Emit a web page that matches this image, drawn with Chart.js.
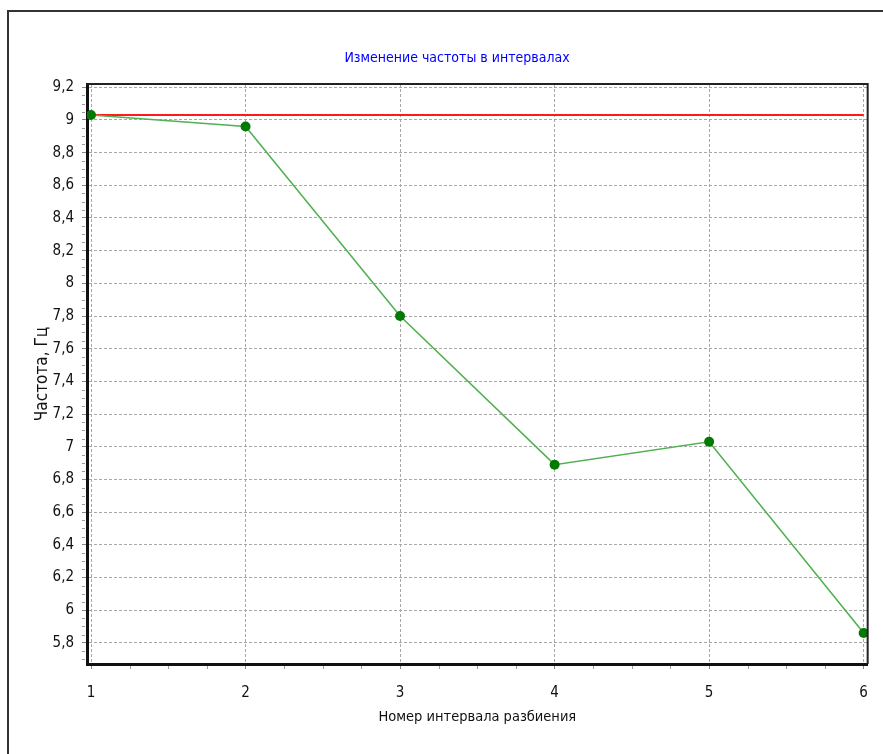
<!DOCTYPE html>
<html>
<head>
<meta charset="utf-8">
<script src="https://cdn.jsdelivr.net/npm/chart.js@4"></script>
<style>
  html, body { margin: 0; padding: 0; background: #fff; overflow: hidden; }
  #wrap { position: relative; width: 883px; height: 754px; }
  #frame { position: absolute; left: 7px; top: 10px; width: 950px; height: 900px; border: 2px solid #333; box-sizing: border-box; }
  canvas { position: absolute; left: 0; top: 0; }
</style>
</head>
<body>
<div id="wrap">
  <div id="frame"></div>
  <canvas id="c" width="883" height="754"></canvas>
</div>
<script>
// ---- data ----
const intervals = [1, 2, 3, 4, 5, 6];
const frequency = [9.03, 8.96, 7.80, 6.89, 7.03, 5.86];
const refX = [1, 6];
const refLevel = [9.03, 9.03];
const chartTitle = 'Изменение частоты в интервалах';
const xTitle = 'Номер интервала разбиения';
const yTitle = 'Частота, Гц';

const FONT = "'Liberation Sans Narrow', 'Arial Narrow', 'DejaVu Sans Condensed', sans-serif";

function fmt(v) {
  const r = Math.round(v * 10) / 10;
  return String(r).replace('.', ',');
}

const minorTicks = {
  id: 'minorTicks',
  afterDraw(chart) {
    const ctx = chart.ctx;
    const xs = chart.scales.x, ys = chart.scales.y;
    const a = chart.chartArea;
    ctx.save();
    ctx.strokeStyle = '#9a9a9a';
    ctx.lineWidth = 1;
    ctx.beginPath();
    for (let i = Math.ceil(ys.min * 20); i <= Math.floor(ys.max * 20); i++) {
      if (i % 4 === 0) continue;
      const y = Math.round(ys.getPixelForValue(i / 20)) + 0.5;
      ctx.moveTo(a.left - 5, y); ctx.lineTo(a.left - 2, y);
    }
    for (let i = Math.ceil(xs.min * 4); i <= Math.floor(xs.max * 4); i++) {
      if (i % 4 === 0) continue;
      const x = Math.round(xs.getPixelForValue(i / 4)) + 0.5;
      ctx.moveTo(x, a.bottom + 2); ctx.lineTo(x, a.bottom + 5);
    }
    ctx.stroke();
    // top and right edges of the plot box
    ctx.strokeStyle = '#222';
    ctx.lineWidth = 2;
    ctx.beginPath();
    ctx.moveTo(a.left, a.top); ctx.lineTo(a.right, a.top); ctx.lineTo(a.right, a.bottom);
    ctx.stroke();
    ctx.restore();
  }
};

new Chart(document.getElementById('c'), {
  type: 'line',
  data: {
    datasets: [
      {
        data: refX.map((x, i) => ({ x, y: refLevel[i] })),
        borderColor: '#ff1a1a',
        borderWidth: 2,
        pointRadius: 0,
        order: 2
      },
      {
        data: intervals.map((x, i) => ({ x, y: frequency[i] })),
        borderColor: '#52b152',
        borderWidth: 1.6,
        pointRadius: 5,
        pointBackgroundColor: '#007a00',
        pointBorderColor: '#007a00',
        pointBorderWidth: 0,
        order: 1
      }
    ]
  },
  options: {
    responsive: false,
    animation: false,
    devicePixelRatio: 1,
    layout: { padding: { left: 43, right: 12, top: 0, bottom: 0 } },
    plugins: {
      legend: { display: false },
      tooltip: { enabled: false },
      title: {
        display: true,
        text: chartTitle,
        color: '#0000ff',
        font: { family: FONT, size: 14, weight: 'normal' },
        padding: { top: 49.6, bottom: 17.6 }
      }
    },
    scales: {
      x: {
        type: 'linear',
        min: 0.974,
        max: 6.026,
        afterFit(s) { s.height = 90; },
        ticks: {
          stepSize: 1,
          includeBounds: false,
          color: '#111',
          font: { family: FONT, size: 15 },
          padding: 15,
          maxRotation: 0,
          callback: v => fmt(v)
        },
        grid: { color: '#a8a8a8', lineWidth: 1, tickLength: 5, tickColor: '#888', tickBorderDash: [] },
        border: { display: true, color: '#111', width: 3, dash: [3, 2] },
        title: {
          display: true, text: xTitle, color: '#111',
          font: { family: FONT, size: 14.5 },
          padding: { top: 0, bottom: 28.3 }
        }
      },
      y: {
        min: 5.67,
        max: 9.22,
        afterFit(s) { s.width = 44; },
        ticks: {
          stepSize: 0.2,
          includeBounds: false,
          color: '#111',
          font: { family: FONT, size: 15 },
          padding: 8,
          callback: v => fmt(v)
        },
        grid: { color: '#a8a8a8', lineWidth: 1, tickLength: 5, tickColor: '#888', tickBorderDash: [] },
        border: { display: true, color: '#111', width: 3, dash: [3, 2] },
        title: {
          display: true, text: yTitle, color: '#111',
          font: { family: FONT, size: 17 },
          padding: { top: -10.2, bottom: 0 }
        }
      }
    }
  },
  plugins: [minorTicks]
});
</script>
</body>
</html>
